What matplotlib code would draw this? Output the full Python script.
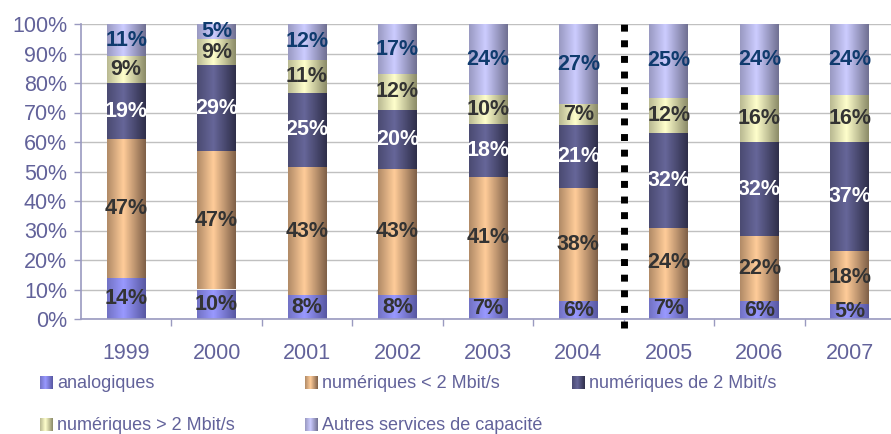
import matplotlib
matplotlib.use("Agg")
import matplotlib.pyplot as plt
import numpy as np
from matplotlib.colors import LinearSegmentedColormap

plt.rcParams['font.family'] = ['Liberation Sans', 'DejaVu Sans']

years = ['1999', '2000', '2001', '2002', '2003', '2004', '2005', '2006', '2007']
series = ['analogiques', 'numériques < 2 Mbit/s', 'numériques de 2 Mbit/s',
          'numériques > 2 Mbit/s', 'Autres services de capacité']
analog = [14, 10, 8, 8, 7, 6, 7, 6, 5]
num_lt2 = [47, 47, 43, 43, 41, 38, 24, 22, 18]
num_2 = [19, 29, 25, 20, 18, 21, 32, 32, 37]
num_gt2 = [9, 9, 11, 12, 10, 7, 12, 16, 16]
autres = [11, 5, 12, 17, 24, 27, 25, 24, 24]

# (left edge, highlight, right edge) for the cylinder-like shading
shades = [('#7272c4', '#9999ff', '#5858a2'),
          ('#b18b67', '#ffcc99', '#7f6048'),
          ('#4b4b72', '#666699', '#2f2f4a'),
          ('#b9b992', '#ffffcc', '#8b8b68'),
          ('#9a9ac2', '#ccccff', '#717192')]
label_colors = ['#333333', '#333333', 'white', '#333333', '#0f3b6e']
text_col = '#62629a'

data = np.array([analog, num_lt2, num_2, num_gt2, autres], dtype=float)
heights = data / data.sum(axis=0) * 100

cmaps = [LinearSegmentedColormap.from_list('s%d' % i, [(0, a), (0.42, b), (1, c)])
         for i, (a, b, c) in enumerate(shades)]
grad = np.linspace(0, 1, 64).reshape(1, -1)

fig = plt.figure(figsize=(8.91, 4.34), dpi=100)
ax = fig.add_axes([81 / 891, 115 / 434, 1 - 81 / 891, 295 / 434])

x = np.arange(len(years))
w = 0.43
bottom = np.zeros(len(years))
for i in range(len(series)):
    bars = ax.bar(x, heights[i], w, bottom=bottom, color='none', zorder=2)
    for j, b in enumerate(bars):
        im = ax.imshow(grad, cmap=cmaps[i], aspect='auto', zorder=2,
                       extent=[b.get_x(), b.get_x() + w, bottom[j], bottom[j] + heights[i][j]])
        im.set_clip_path(b)
        ax.text(x[j], bottom[j] + heights[i][j] / 2, '%d%%' % data[i][j],
                ha='center', va='center', fontsize=15.5, fontweight='bold',
                color=label_colors[i], zorder=4)
    bottom += heights[i]

# separator between 2004 and 2005
ax.plot([5.5, 5.5], [-3, 100.8], color='black', lw=5, linestyle=(0, (1, 1.25)),
        clip_on=False, zorder=5, solid_capstyle='butt', dash_capstyle='butt')

ax.set_xlim(-0.5, 8.5 - 4 / 90.4)
ax.set_ylim(0, 100)
ax.set_yticks(np.arange(0, 101, 10))
ax.set_yticklabels(['%d%%' % v for v in range(0, 101, 10)])
ax.set_xticks(x)
ax.set_xticklabels(years)
ax.set_xticks(np.arange(0.5, 8, 1), minor=True)
ax.tick_params(axis='x', which='major', length=0, pad=17, labelsize=15.5, labelcolor=text_col)
ax.tick_params(axis='x', which='minor', length=5, color='#9a9ac0', width=1)
ax.tick_params(axis='y', length=5, color='#9a9ac0', width=1, labelsize=15.5,
               labelcolor=text_col, pad=5)
ax.yaxis.grid(True, color='#c0c0c0', lw=1, zorder=0)
ax.set_axisbelow(True)
for s in ['top', 'right']:
    ax.spines[s].set_visible(False)
for s in ['left', 'bottom']:
    ax.spines[s].set_color('#9a9ac0')
    ax.spines[s].set_linewidth(1.2)

# legend drawn in pixel coordinates at the bottom
lax = fig.add_axes([0, 0, 1, 74 / 434])
lax.set_xlim(0, 891)
lax.set_ylim(434, 360)
lax.axis('off')
spots = [(40, 383), (305, 383), (572, 383), (40, 425), (305, 425)]
for i, (px, py) in enumerate(spots):
    lax.imshow(grad, cmap=cmaps[i], aspect='auto', extent=[px, px + 13, py + 6.5, py - 6.5])
    lax.text(px + 17, py, series[i], fontsize=13, color=text_col, va='center', ha='left')
lax.set_xlim(0, 891)
lax.set_ylim(434, 360)

fig.savefig('out.png', dpi=100)
